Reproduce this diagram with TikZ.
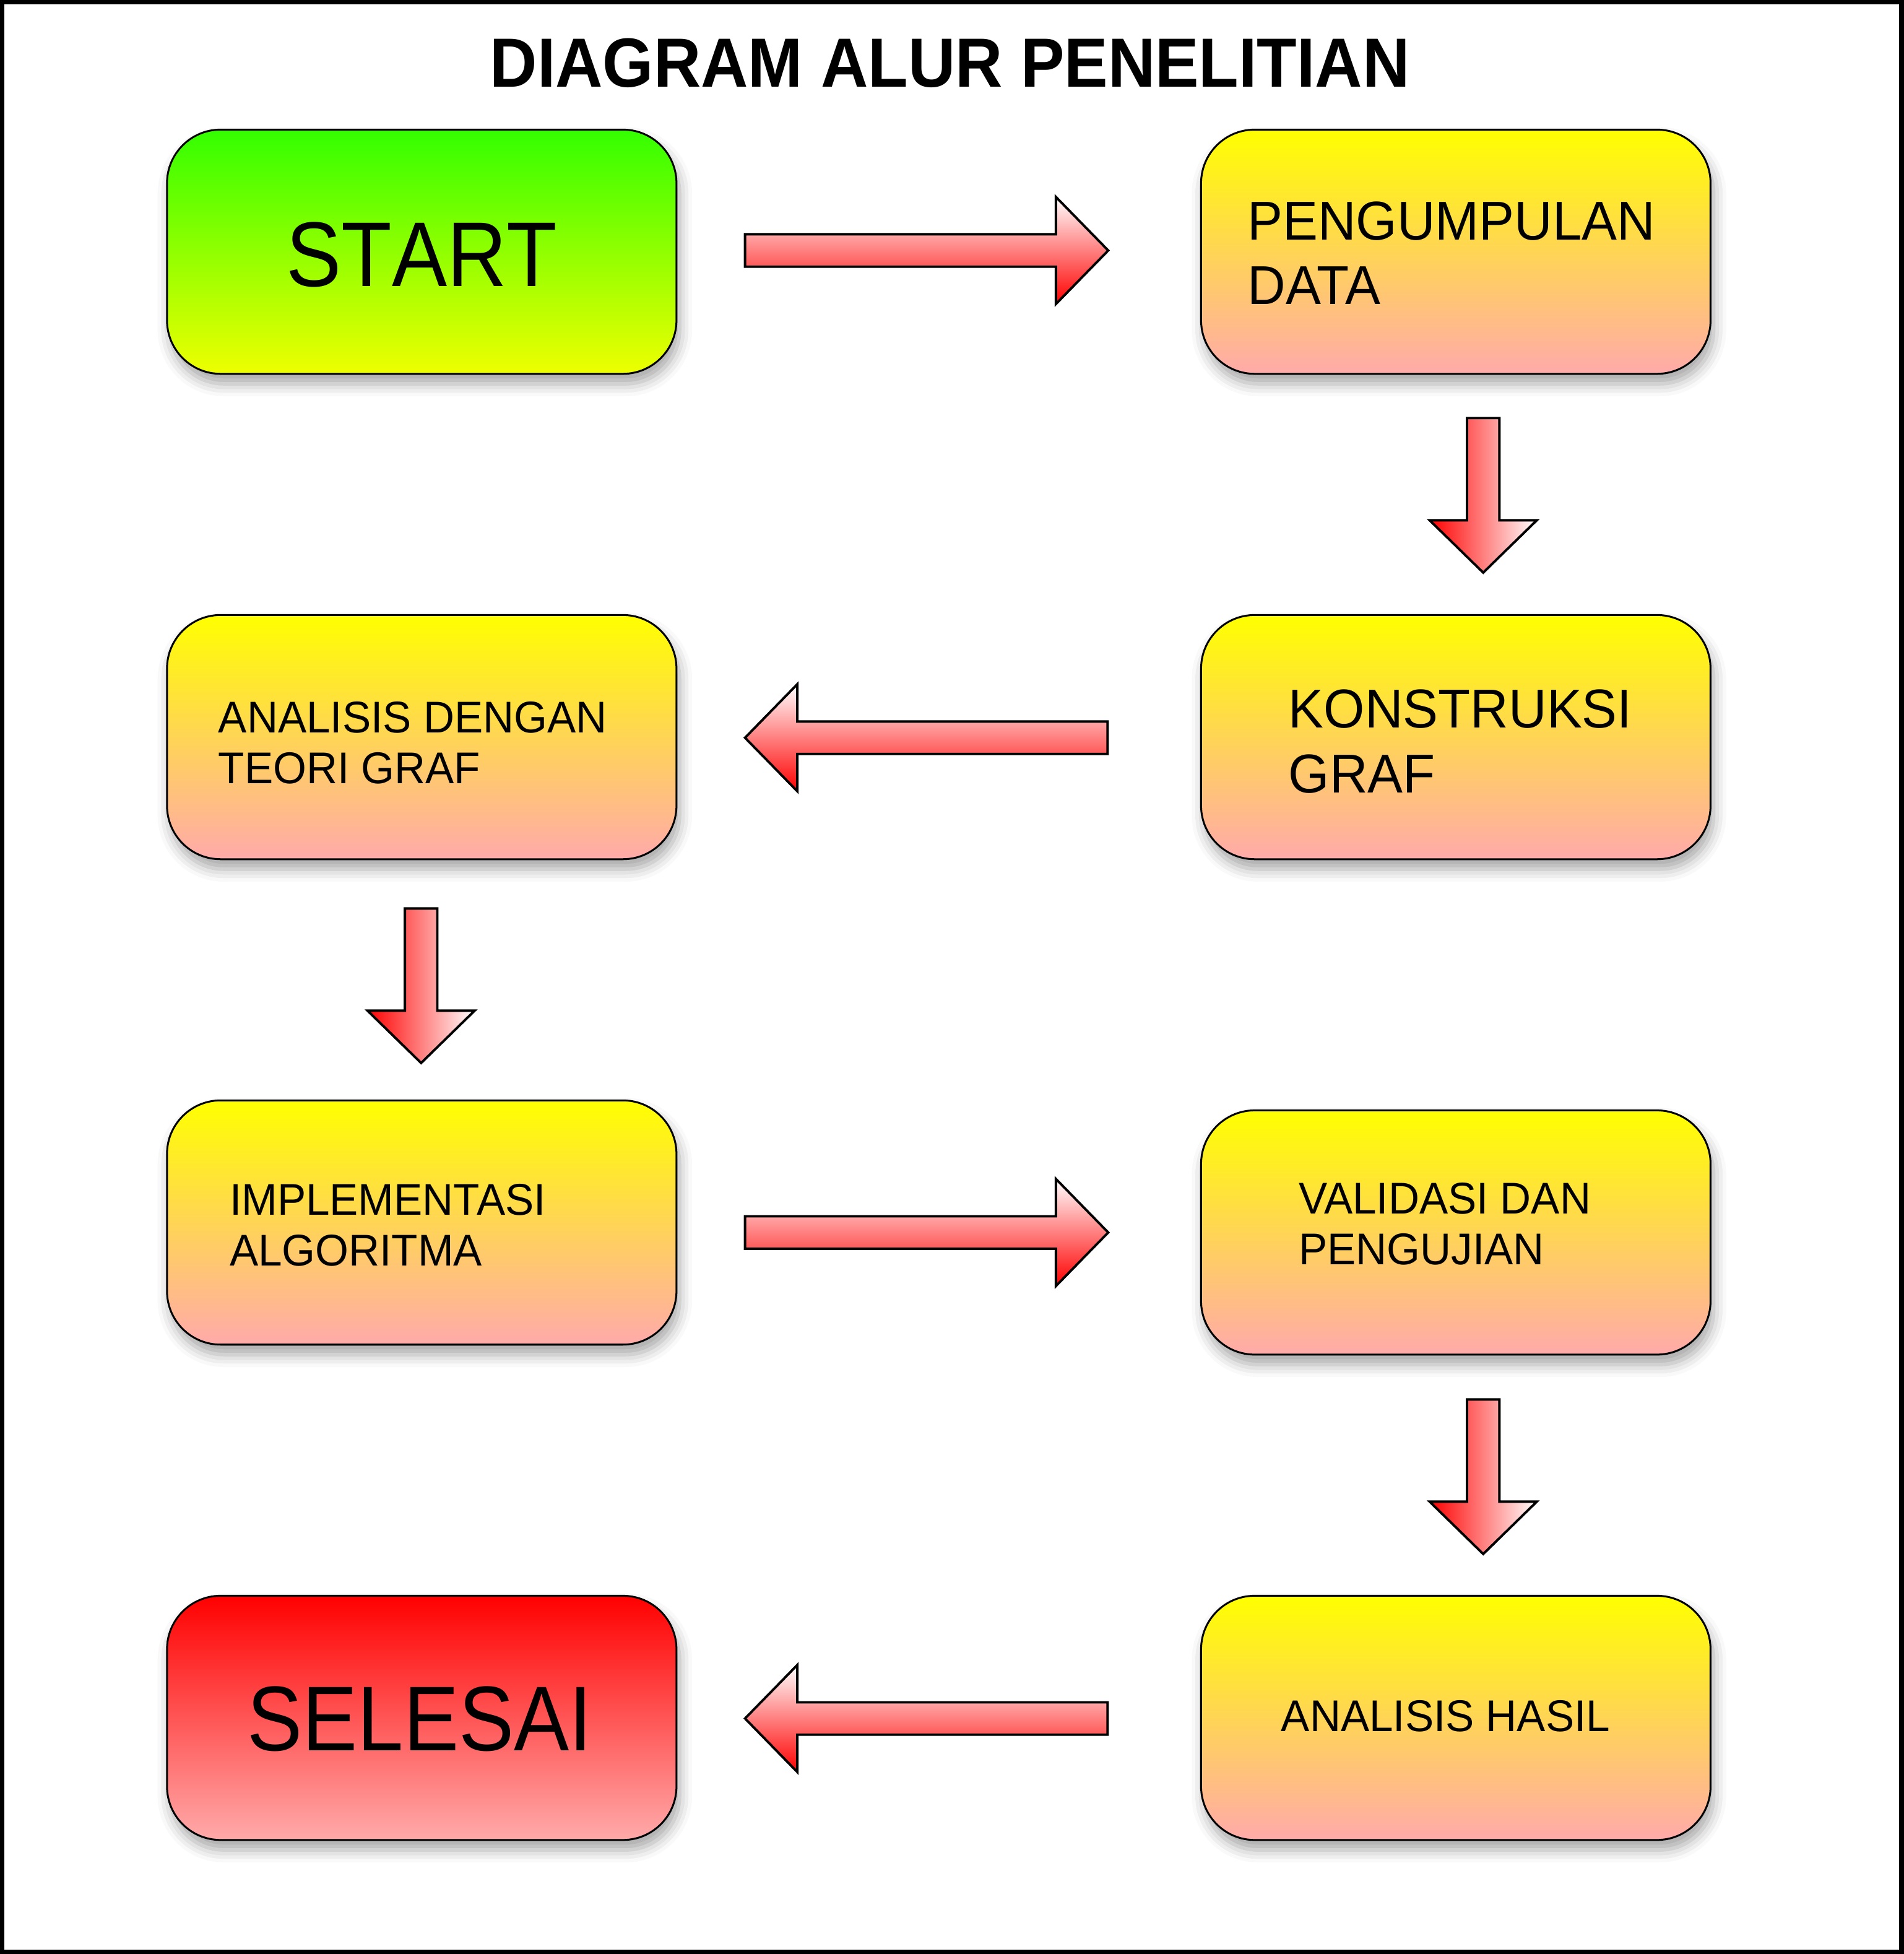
\documentclass[tikz,border=0pt]{standalone}
\usepackage{fontspec}
\setmainfont{Liberation Sans}[FakeStretch=0.965]
\newfontfamily\bigfont{Liberation Sans}[FakeStretch=0.9, Kerning=Off]
\newfontfamily\titlefont{Liberation Sans}[FakeStretch=0.94]
\usetikzlibrary{shadows.blur}

\definecolor{boxyellow}{HTML}{FFFF00}
\definecolor{boxpink}{HTML}{FFAAAA}
\definecolor{startgreen}{HTML}{33FF00}
\definecolor{startyellow}{HTML}{EEFF00}
\definecolor{endred}{HTML}{FF0000}

\tikzset{
  flowbox/.style={draw=black, line width=0.85pt, rounded corners=0.86cm,
    minimum width=8.18cm, minimum height=3.92cm, inner sep=0pt,
    blur shadow={shadow xshift=0.05cm, shadow yshift=-0.16cm,
      shadow blur radius=0.2cm, shadow opacity=35}},
  stepfill/.style={top color=boxyellow, bottom color=boxpink},
  lbl/.style={inner sep=0pt, align=left, anchor=west},
  lblbig/.style={font=\fontsize{25}{29.6}\selectfont},
  lblsmall/.style={font=\fontsize{20.3}{23.3}\selectfont},
  lblhuge/.style={inner sep=0pt, font=\bigfont\fontsize{42}{48}\selectfont},
  fatarrow/.style={draw=black, line width=1.1pt}
}

% block arrows in px units
% \hblock{tail x}{head base x}{tip x}{y}
\newcommand{\hblock}[4]{%
  \shadedraw[fatarrow, top color=white, bottom color=red]
    (#1,#4-13) -- (#2,#4-13) -- (#2,#4-43) -- (#3,#4) -- (#2,#4+43)
    -- (#2,#4+13) -- (#1,#4+13) -- cycle;}
% \vblock{x}{tail y}{head base y}{tip y}
\newcommand{\vblock}[4]{%
  \shadedraw[fatarrow, left color=red, right color=white]
    (#1-13,#2) -- (#1-13,#3) -- (#1-43,#3) -- (#1,#4) -- (#1+43,#3)
    -- (#1+13,#3) -- (#1+13,#2) -- cycle;}

\begin{document}
\begin{tikzpicture}[x=0.02cm, y=-0.02cm]
\useasboundingbox (0,0) rectangle (1528,1568);
% outer frame
\draw[line width=0.07cm] (1.75,1.75) rectangle (1526.25,1566.25);

% title
\node[anchor=base, inner sep=0pt, font=\titlefont\bfseries\fontsize{31.8}{36}\selectfont] (title) at (762.5,70) {DIAGRAM ALUR PENELITIAN};

% boxes
\node[flowbox, top color=startgreen, bottom color=startyellow] (start) at (338.5,202) {};
\node[flowbox, stepfill] (data) at (1168.5,202) {};
\node[flowbox, stepfill] (graf) at (1168.5,591.5) {};
\node[flowbox, stepfill] (teori) at (338.5,591.5) {};
\node[flowbox, stepfill] (algo) at (338.5,981) {};
\node[flowbox, stepfill] (valid) at (1168.5,989) {};
\node[flowbox, top color=endred, bottom color=boxpink] (selesai) at (338.5,1378.5) {};
\node[flowbox, stepfill] (hasil) at (1168.5,1378.5) {};

% labels
\node[lblhuge] (start-t) at (338.5,204.5) {START};
\node[lbl, lblbig] (data-t) at (1001,203) {PENGUMPULAN\\DATA};
\node[lbl, lblbig] (graf-t) at (1034,595) {KONSTRUKSI\\GRAF};
\node[lbl, lblsmall] (teori-t) at (175,596) {ANALISIS DENGAN\\TEORI GRAF};
\node[lbl, lblsmall] (algo-t) at (184,983) {IMPLEMENTASI\\ALGORITMA};
\node[lbl, lblsmall] (valid-t) at (1042,982) {VALIDASI DAN\\PENGUJIAN};
\node[lbl, lblsmall] (hasil-t) at (1028,1377) {ANALISIS HASIL};
\node[lblhuge] (selesai-t) at (337,1379.5) {SELESAI};

% arrows
\hblock{598}{847.5}{889.5}{201}
\vblock{1190.5}{335.5}{417.5}{459.5}
\hblock{889}{640}{598}{592}
\vblock{338}{729}{811}{853}
\hblock{598}{847.5}{889.5}{989}
\vblock{1190.5}{1123}{1205}{1247}
\hblock{889}{640}{598}{1379}
\end{tikzpicture}
\end{document}
